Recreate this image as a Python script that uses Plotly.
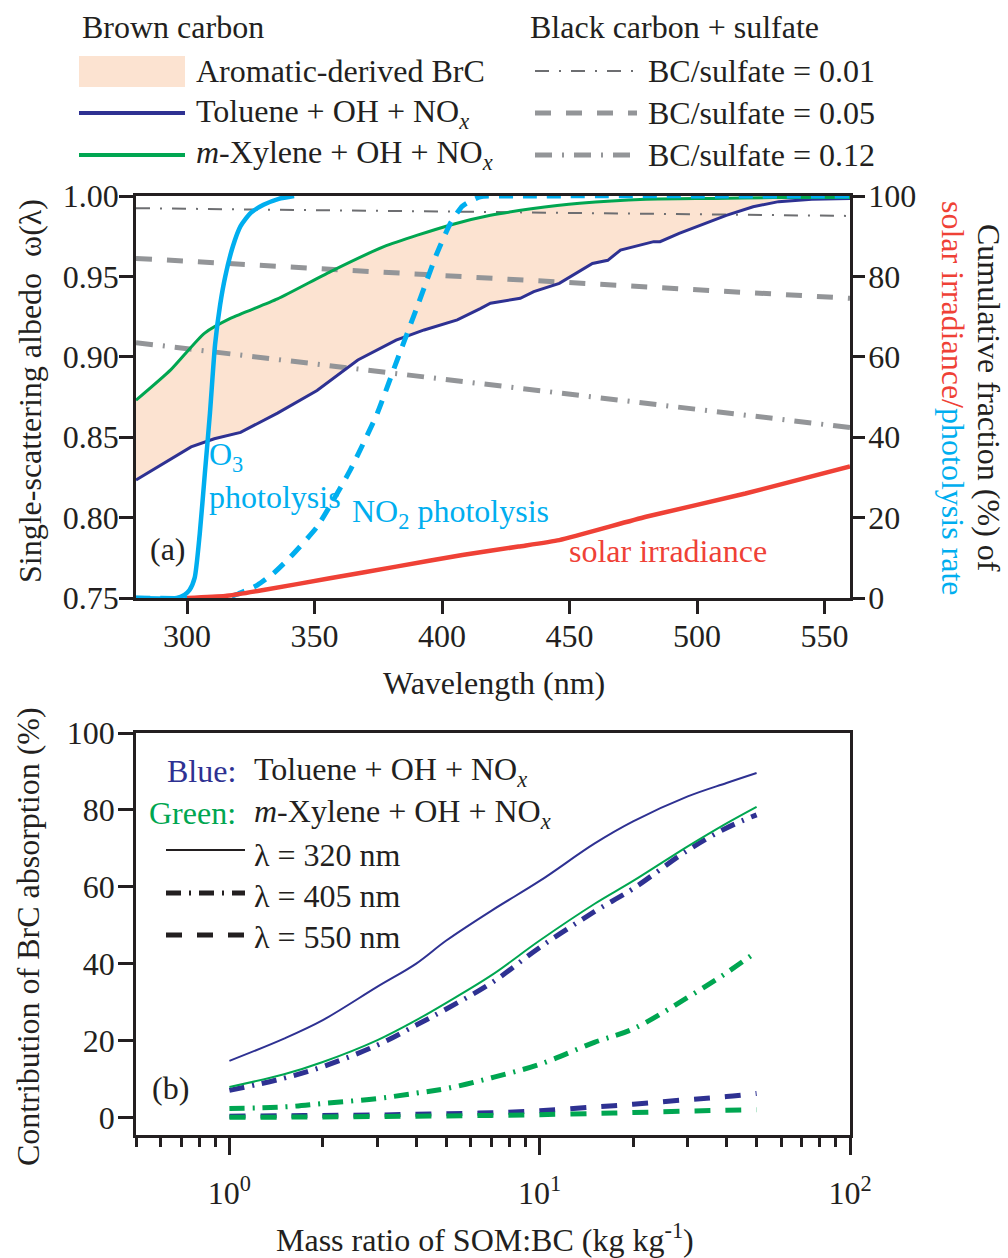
import plotly.graph_objects as go

# ---------------- data: panel (a) ----------------
wl_toluene = [280, 291, 301.6, 310.7, 321, 335.5, 351, 367, 382, 393, 406, 415, 419, 430.7,
              436, 446, 459, 465, 470, 483, 485.5, 493, 511.5, 522, 532, 545, 560]
ssa_toluene = [0.8234, 0.8337, 0.844, 0.849, 0.853, 0.865, 0.879, 0.898, 0.9104, 0.9167, 0.923,
               0.930, 0.9333, 0.9364, 0.9405, 0.9457, 0.958, 0.960, 0.9664, 0.9716, 0.9716,
               0.9768, 0.988, 0.9933, 0.9965, 0.998, 0.9985]
wl_xylene = [280, 293.7, 306.8, 317.2, 335.5, 356.3, 377.2, 403.3, 419, 435, 454, 480, 506, 530, 560]
ssa_xylene = [0.873, 0.892, 0.9146, 0.924, 0.936, 0.953, 0.9685, 0.982, 0.988, 0.992, 0.9955,
              0.998, 0.9985, 0.999, 0.999]

wl_bc = [280, 560]
ssa_bc_001 = [0.9924, 0.9876]
ssa_bc_005 = [0.9612, 0.9364]
ssa_bc_012 = [0.9088, 0.856]

wl_o3 = [280, 296, 299, 301, 303, 305, 307, 309, 311, 313, 315, 318, 321, 325, 330, 336, 342]
cum_o3 = [0, 0, 0.8, 2.0, 5, 16, 31, 46, 63, 73, 80, 87.5, 92.5, 95.8, 97.8, 99.3, 100]
wl_no2 = [280, 315, 320, 327.6, 334, 340.7, 351, 364, 374.6, 382.4, 390.3, 398, 403.3, 408,
          415, 430, 560]
cum_no2 = [0, 0, 1, 3.2, 6.2, 10.3, 17.7, 31.8, 45.9, 59.2, 72.5, 85.7, 93.2, 97.5, 99.8, 100, 100]
wl_solar = [300, 315, 330, 356, 382, 408, 430, 446, 480, 519, 560]
cum_solar = [0, 0.5, 2.0, 4.9, 7.8, 10.7, 12.8, 14.4, 20.2, 26.0, 32.7]

x_ticks_a = [300, 350, 400, 450, 500, 550]
y_ticks_a = [0.75, 0.80, 0.85, 0.90, 0.95, 1.00]
y2_ticks_a = [0, 20, 40, 60, 80, 100]

# ---------------- data: panel (b) ----------------
som_bc = [1, 1.5, 2, 3, 4, 5, 7, 10, 15, 20, 30, 40, 50]
tol_320 = [14.7, 20.5, 25.3, 34.0, 40.0, 46.0, 53.8, 61.5, 71.2, 77.0, 83.5, 87.0, 89.6]
xyl_320 = [7.9, 11.2, 14.4, 20.1, 25.3, 29.8, 37.0, 46.0, 55.5, 61.5, 70.5, 76.5, 80.8]
tol_405 = [7.0, 10.2, 13.2, 18.8, 24.0, 28.2, 35.0, 44.2, 53.5, 59.5, 69.5, 75.3, 78.7]
xyl_405 = [2.3, 2.7, 3.6, 4.9, 6.3, 7.5, 10.3, 13.8, 19.5, 23.0, 31.2, 37.6, 43.1]
tol_550 = [0.3, 0.4, 0.5, 0.6, 0.8, 0.9, 1.2, 1.7, 2.7, 3.4, 4.6, 5.4, 6.2]
xyl_550 = [0.0, 0.05, 0.1, 0.2, 0.3, 0.35, 0.5, 0.7, 1.0, 1.25, 1.6, 1.85, 2.0]

x_ticks_b = [1, 10, 100]
x_ticktext_b = ["10<sup>0</sup>", "10<sup>1</sup>", "10<sup>2</sup>"]
x_minor_b = [0.5, 0.6, 0.7, 0.8, 0.9, 2, 3, 4, 5, 6, 7, 8, 9, 20, 30, 40, 50, 60, 70, 80, 90]
y_ticks_b = [0, 20, 40, 60, 80, 100]

# ---------------- styles ----------------
NAVY = "#2E3192"
GREEN = "#00A651"
CYAN = "#00AEEF"
RED = "#EF4136"
GRAY_D = "#6D6E71"
GRAY = "#939598"
PEACH = "#FCE3D1"
INK = "#231F20"
FONT = "Liberation Serif"
FS = 32

W, H = 1008, 1258


def px(x):
    return x / W


def py(y):
    return 1 - y / H


fig = go.Figure()

# ---- panel (a), left axis ----
fig.add_trace(go.Scatter(
    x=wl_toluene + wl_xylene[::-1], y=ssa_toluene + ssa_xylene[::-1],
    fill="toself", fillcolor=PEACH, line=dict(width=0), mode="lines",
    xaxis="x", yaxis="y", hoverinfo="skip"))
fig.add_trace(go.Scatter(x=wl_bc, y=ssa_bc_001, mode="lines", xaxis="x", yaxis="y",
                         line=dict(color=GRAY_D, width=2, dash="14px,10px,2px,10px")))
fig.add_trace(go.Scatter(x=wl_bc, y=ssa_bc_005, mode="lines", xaxis="x", yaxis="y",
                         line=dict(color=GRAY, width=5, dash="16px,15px")))
fig.add_trace(go.Scatter(x=wl_bc, y=ssa_bc_012, mode="lines", xaxis="x", yaxis="y",
                         line=dict(color=GRAY, width=5, dash="17px,10px,2px,10px")))
fig.add_trace(go.Scatter(x=wl_toluene, y=ssa_toluene, mode="lines", xaxis="x", yaxis="y",
                         line=dict(color=NAVY, width=3)))
fig.add_trace(go.Scatter(x=wl_xylene, y=ssa_xylene, mode="lines", xaxis="x", yaxis="y",
                         line=dict(color=GREEN, width=3, shape="spline", smoothing=0.6)))

# ---- panel (a), right axis ----
fig.add_trace(go.Scatter(x=wl_no2, y=cum_no2, mode="lines", xaxis="x", yaxis="y2",
                         line=dict(color=CYAN, width=5, dash="14px,10px", shape="spline",
                                   smoothing=0.5)))
fig.add_trace(go.Scatter(x=wl_o3, y=cum_o3, mode="lines", xaxis="x", yaxis="y2",
                         line=dict(color=CYAN, width=4.5, shape="spline", smoothing=0.6)))
fig.add_trace(go.Scatter(x=wl_solar, y=cum_solar, mode="lines", xaxis="x", yaxis="y2",
                         line=dict(color=RED, width=4.5, shape="spline", smoothing=0.5)))

# ---- panel (b) ----
dd_b = "15px,8px,2px,8px"
da_b = "16px,15px"
fig.add_trace(go.Scatter(x=som_bc, y=tol_550, mode="lines", xaxis="x2", yaxis="y3",
                         line=dict(color=NAVY, width=5, dash=da_b, shape="spline")))
fig.add_trace(go.Scatter(x=som_bc, y=xyl_550, mode="lines", xaxis="x2", yaxis="y3",
                         line=dict(color=GREEN, width=5, dash=da_b, shape="spline")))
fig.add_trace(go.Scatter(x=som_bc, y=xyl_405, mode="lines", xaxis="x2", yaxis="y3",
                         line=dict(color=GREEN, width=5, dash=dd_b, shape="spline")))
fig.add_trace(go.Scatter(x=som_bc, y=tol_405, mode="lines", xaxis="x2", yaxis="y3",
                         line=dict(color=NAVY, width=5, dash=dd_b, shape="spline")))
fig.add_trace(go.Scatter(x=som_bc, y=xyl_320, mode="lines", xaxis="x2", yaxis="y3",
                         line=dict(color=GREEN, width=2, shape="spline")))
fig.add_trace(go.Scatter(x=som_bc, y=tol_320, mode="lines", xaxis="x2", yaxis="y3",
                         line=dict(color=NAVY, width=2, shape="spline")))

axis_common = dict(showgrid=False, zeroline=False, showline=True, linecolor=INK, linewidth=2.5,
                   ticks="outside", tickcolor=INK, tickwidth=2.5, automargin=False,
                   tickfont=dict(family=FONT, size=FS, color=INK))

dom_x = [px(136), px(850)]
fig.update_layout(
    width=W, height=H, margin=dict(l=0, r=0, t=0, b=0, autoexpand=False),
    paper_bgcolor="white", plot_bgcolor="white", showlegend=False,
    font=dict(family=FONT, size=FS, color=INK),
    xaxis=dict(domain=dom_x, anchor="y", range=[280, 560], tickvals=x_ticks_a, ticklen=13,
               mirror=True, ticklabelstandoff=-5, **axis_common),
    yaxis=dict(domain=[py(598), py(196)], anchor="x", range=[0.75, 1.0], tickvals=y_ticks_a,
               tickformat=".2f", ticklen=14, ticklabelstandoff=-6, **axis_common),
    yaxis2=dict(overlaying="y", side="right", anchor="x", range=[0, 100], tickvals=y2_ticks_a,
                ticklen=12, ticklabelstandoff=-3, **axis_common),
    xaxis2=dict(domain=dom_x, anchor="y3", type="log", range=[-0.30103, 2],
                tickvals=x_ticks_b, ticktext=x_ticktext_b, ticklen=17, mirror=True,
                ticklabelstandoff=11,
                minor=dict(tickvals=x_minor_b, ticks="outside", ticklen=9, tickwidth=2.5,
                           tickcolor=INK, showgrid=False),
                **axis_common),
    yaxis3=dict(domain=[py(1135), py(733)], anchor="x2", range=[-4.6, 100], tickvals=y_ticks_b,
                ticklen=15, mirror=True, ticklabelstandoff=-3, **axis_common),
)

ann = []


def text(x, y, s, color=INK, xanchor="left", angle=0, size=FS):
    ann.append(dict(x=px(x), y=py(y), xref="paper", yref="paper", text=s, showarrow=False,
                    xanchor=xanchor, yanchor="middle", textangle=angle,
                    font=dict(family=FONT, size=size, color=color)))


# axis titles
text(30, 391, "Single-scattering albedo  ω(λ)", xanchor="center", angle=-90)
text(989, 398, "Cumulative fraction (%) of", xanchor="center", angle=90)
text(953, 398, "<span style='color:%s'>solar irradiance/</span>"
               "<span style='color:%s'>photolysis rate</span>" % (RED, CYAN),
     xanchor="center", angle=90)
text(494, 683, "Wavelength (nm)", xanchor="center")
text(28, 937, "Contribution of BrC absorption (%)", xanchor="center", angle=-90)
text(485, 1238, "Mass ratio of SOM:BC (kg kg<sup>-1</sup>)", xanchor="center")

# panel (a) labels
text(148, 549, "(a)")
text(207, 457, "O<sub>3</sub>", color=CYAN)
text(207, 497, "photolysis", color=CYAN)
text(350, 513, "NO<sub>2</sub> photolysis", color=CYAN)
text(567, 551, "solar irradiance", color=RED)

# top legend
text(80, 27, "Brown carbon")
text(528, 27, "Black carbon + sulfate")
text(194, 71, "Aromatic-derived BrC")
text(194, 113, "Toluene + OH + NO<sub><i>x</i></sub>")
text(194, 155, "<i>m</i>-Xylene + OH + NO<sub><i>x</i></sub>")
text(646, 71, "BC/sulfate = 0.01")
text(646, 113, "BC/sulfate = 0.05")
text(646, 155, "BC/sulfate = 0.12")

# panel (b) legend
text(238, 771, "Blue:", color=NAVY, xanchor="right")
text(252, 771, "Toluene + OH + NO<sub><i>x</i></sub>")
text(238, 813, "Green:", color=GREEN, xanchor="right")
text(252, 813, "<i>m</i>-Xylene + OH + NO<sub><i>x</i></sub>")
text(252, 855, "λ = 320 nm")
text(252, 896, "λ = 405 nm")
text(252, 937, "λ = 550 nm")
text(150, 1088, "(b)")

shapes = []


def seg(x0, x1, y, color, width, dash="solid"):
    shapes.append(dict(type="line", xref="paper", yref="paper", x0=px(x0), x1=px(x1),
                       y0=py(y), y1=py(y), line=dict(color=color, width=width, dash=dash)))


shapes.append(dict(type="rect", xref="paper", yref="paper", x0=px(79), x1=px(185),
                   y0=py(87), y1=py(56), fillcolor=PEACH, line=dict(width=0)))
seg(79, 185, 113, NAVY, 4)
seg(79, 185, 155, GREEN, 4)
seg(535, 637, 71, GRAY_D, 2, "14px,10px,2px,10px")
seg(535, 637, 113, GRAY, 5, "16px,15px")
seg(535, 637, 155, GRAY, 5, "17px,10px,2px,10px")
seg(166, 245, 850, INK, 2)
seg(166, 245, 893, INK, 5, dd_b)
seg(166, 245, 935, INK, 5, da_b)

fig.update_layout(annotations=ann, shapes=shapes)
fig.write_html("out.html", config={"displayModeBar": False},
               post_script="document.body.style.margin='0px';"
                           "document.body.style.overflow='hidden';")
